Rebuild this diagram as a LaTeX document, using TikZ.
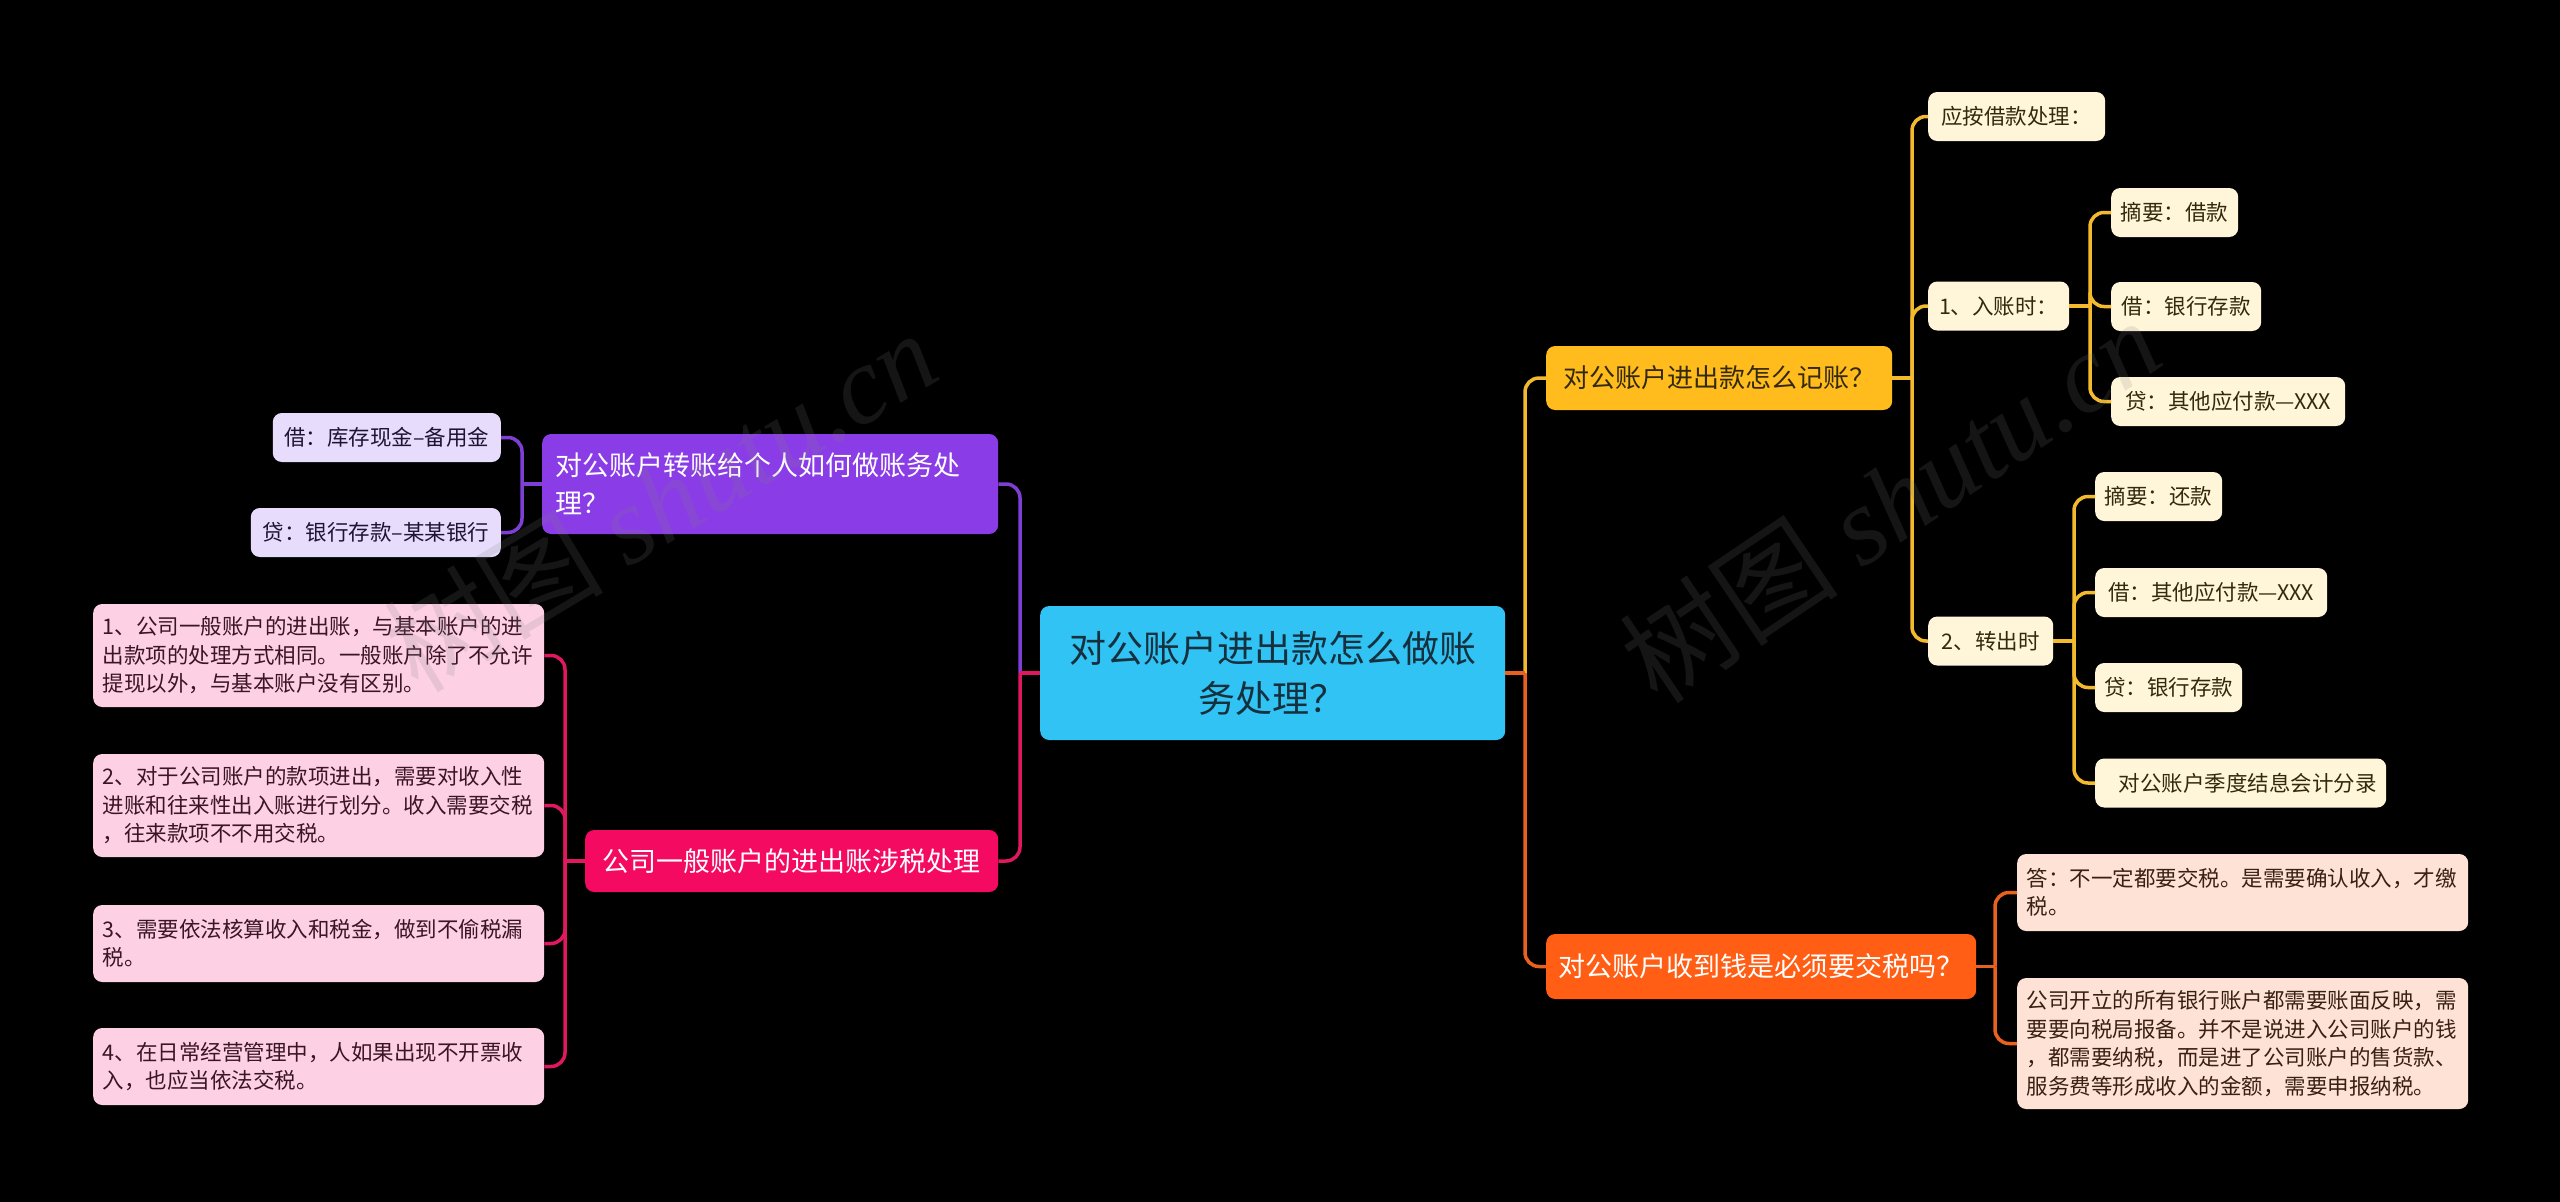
\documentclass[tikz,border=0pt]{standalone}
\usepackage{fontspec}
\setmainfont{Noto Sans CJK SC}
\newfontfamily\wmserif{Liberation Serif}
\definecolor{cBlue}{HTML}{30C3F4}
\definecolor{cBlueTxt}{HTML}{17303D}
\definecolor{cYel}{HTML}{FFBC1C}
\definecolor{cYelLine}{HTML}{F2BA2C}
\definecolor{cYelLeaf}{HTML}{FFF5D9}
\definecolor{cYelTxt}{HTML}{33290F}
\definecolor{cOra}{HTML}{FF5E14}
\definecolor{cOraLine}{HTML}{E8611E}
\definecolor{cOraLeaf}{HTML}{FDE2D5}
\definecolor{cOraTxt}{HTML}{3A2014}
\definecolor{cPur}{HTML}{8A3DE6}
\definecolor{cPurLine}{HTML}{7D3FD6}
\definecolor{cPurLeaf}{HTML}{E7DCFB}
\definecolor{cPurTxt}{HTML}{1F1533}
\definecolor{cPink}{HTML}{F50A62}
\definecolor{cPinkLine}{HTML}{E0185F}
\definecolor{cPinkLeaf}{HTML}{FDD0E4}
\definecolor{cPinkTxt}{HTML}{3A1526}
\begin{document}
\begin{tikzpicture}[x=1pt,y=-1pt,
  box/.style={rounded corners=9pt, inner sep=0pt, align=center},
  lvlone/.style={box, font=\fontsize{27}{38}\selectfont},
  leaf/.style={box, font=\fontsize{21.5}{28.5}\selectfont, minimum height=49pt},
  para/.style={box, font=\fontsize{21.5}{28.5}\selectfont, align=left, text width=432pt, inner xsep=9.5pt},
  link/.style={line width=3.5pt, rounded corners=14pt},
  wm/.style={text=gray, text opacity=0.17, font=\fontsize{110}{110}\selectfont, inner sep=0pt}
]
\path[use as bounding box, fill=black] (0,0) rectangle (2560,1202);

% root
\node[box, fill=cBlue, text=cBlueTxt, font=\fontsize{37}{50}\selectfont,
  minimum width=465pt, minimum height=134pt, anchor=west] (root) at (1040,673)
  {对公账户进出款怎么做账\\务处理？};

% level one
\node[lvlone, fill=cYel, text=cYelTxt, minimum width=346pt, minimum height=64pt, anchor=west, font=\fontsize{26}{34}\selectfont] (yel) at (1546,378) {对公账户进出款怎么记账？};
\node[lvlone, fill=cOra, text=white, minimum width=430pt, minimum height=65pt, anchor=west] (ora) at (1546,966.5) {对公账户收到钱是必须要交税吗？};
\node[lvlone, fill=cPur, text=white, align=left, text width=430pt, inner xsep=13pt, minimum height=100pt, anchor=west] (pur) at (542,484) {对公账户转账给个人如何做账务处\\理？};
\node[lvlone, fill=cPink, text=white, minimum width=413pt, minimum height=62pt, anchor=west] (pink) at (585,861) {公司一般账户的进出账涉税处理};

% yellow leaves
\tikzset{yl/.style={leaf, fill=cYelLeaf, text=cYelTxt, anchor=west}}
\node[yl, minimum width=177pt] (ying) at (1928,116.5) {应按借款处理：};
\node[yl, minimum width=141pt] (inacc) at (1928,306) {1、入账时：};
\node[yl, minimum width=125pt] (outacc) at (1928,641) {2、转出时};
\node[yl, minimum width=127pt] (inA) at (2111,212.5) {摘要：借款};
\node[yl, minimum width=150pt] (inB) at (2111,306.5) {借：银行存款};
\node[yl, minimum width=234pt] (inC) at (2111,401.5) {贷：其他应付款—XXX};
\node[yl, minimum width=127pt] (outA) at (2095,496.5) {摘要：还款};
\node[yl, minimum width=232pt] (outB) at (2095,592.5) {借：其他应付款—XXX};
\node[yl, minimum width=147pt] (outC) at (2095,687.5) {贷：银行存款};
\node[yl, minimum width=291pt] (outD) at (2095,783) {\hspace{14pt}对公账户季度结息会计分录};

% orange leaves
\node[para, fill=cOraLeaf, text=cOraTxt, minimum height=77pt, anchor=west] (oA) at (2017,892.5)
  {答：不一定都要交税。是需要确认收入，才缴\\税。};
\node[para, fill=cOraLeaf, text=cOraTxt, minimum height=131pt, anchor=west] (oB) at (2017,1043.5)
  {公司开立的所有银行账户都需要账面反映，需\\要要向税局报备。并不是说进入公司账户的钱\\，都需要纳税，而是进了公司账户的售货款、\\服务费等形成收入的金额，需要申报纳税。};

% purple leaves
\node[leaf, fill=cPurLeaf, text=cPurTxt, minimum width=228pt, anchor=east] (pA) at (501,437.5) {借：库存现金–备用金};
\node[leaf, fill=cPurLeaf, text=cPurTxt, minimum width=250pt, anchor=east] (pB) at (501,532.5) {贷：银行存款–某某银行};

% pink leaves
\node[para, fill=cPinkLeaf, text=cPinkTxt, minimum height=103pt, anchor=west] (k1) at (93,655.5)
  {1、公司一般账户的进出账，与基本账户的进\\出款项的处理方式相同。一般账户除了不允许\\提现以外，与基本账户没有区别。};
\node[para, fill=cPinkLeaf, text=cPinkTxt, minimum height=103pt, anchor=west] (k2) at (93,805.5)
  {2、对于公司账户的款项进出，需要对收入性\\进账和往来性出入账进行划分。收入需要交税\\，往来款项不不用交税。};
\node[para, fill=cPinkLeaf, text=cPinkTxt, minimum height=77pt, anchor=west] (k3) at (93,943.5)
  {3、需要依法核算收入和税金，做到不偷税漏\\税。};
\node[para, fill=cPinkLeaf, text=cPinkTxt, minimum height=77pt, anchor=west] (k4) at (93,1066.5)
  {4、在日常经营管理中，人如果出现不开票收\\入，也应当依法交税。};

% connectors
\coordinate (jR) at (1525,673);
\coordinate (jL) at (1020,673);
\coordinate (jY) at (1912,378);
\coordinate (jIn) at (2090,306);
\coordinate (jOut) at (2074,641);
\coordinate (jO) at (1995,966.5);
\coordinate (jP) at (522,484);
\coordinate (jK) at (565,861);

\draw[link, cYelLine] (root.east) -- (jR);
\draw[link, cYelLine] (jR) |- (yel.west);
\draw[link, cOraLine] (root.east) -- (jR);
\draw[link, cOraLine] (jR) |- (ora.west);

\draw[link, cPurLine] (root.west) -- (jL);
\draw[link, cPurLine] (jL) |- (pur.east);
\draw[link, cPinkLine] (root.west) -- (jL);
\draw[link, cPinkLine] (jL) |- (pink.east);

\draw[link, cYelLine] (yel.east) -- (jY);
\draw[link, cYelLine] (jY) |- (ying.west);
\draw[link, cYelLine] (jY) |- (inacc.west);
\draw[link, cYelLine] (jY) |- (outacc.west);

\draw[link, cYelLine] (inacc.east) -- (jIn);
\draw[link, cYelLine] (jIn) |- (inA.west);
\draw[link, cYelLine] (jIn) |- (inB.west);
\draw[link, cYelLine] (jIn) |- (inC.west);

\draw[link, cYelLine] (outacc.east) -- (jOut);
\draw[link, cYelLine] (jOut) |- (outA.west);
\draw[link, cYelLine] (jOut) |- (outB.west);
\draw[link, cYelLine] (jOut) |- (outC.west);
\draw[link, cYelLine] (jOut) |- (outD.west);

\draw[link, cOraLine] (ora.east) -- (jO);
\draw[link, cOraLine] (jO) |- (oA.west);
\draw[link, cOraLine] (jO) |- (oB.west);

\draw[link, cPurLine] (pur.west) -- (jP);
\draw[link, cPurLine] (jP) |- (pA.east);
\draw[link, cPurLine] (jP) |- (pB.east);

\draw[link, cPinkLine] (pink.west) -- (jK);
\draw[link, cPinkLine] (jK) |- (k1.east);
\draw[link, cPinkLine] (jK) |- (k2.east);
\draw[link, cPinkLine] (jK) |- (k3.east);
\draw[link, cPinkLine] (jK) |- (k4.east);

% watermarks
\node[wm, rotate=31] (wmL) at (660,500) {树图 {\wmserif\itshape shutu.cn}};
\node[wm, rotate=34] (wmR) at (1890,500) {树图 {\wmserif\itshape shutu.cn}};
\end{tikzpicture}
\end{document}
